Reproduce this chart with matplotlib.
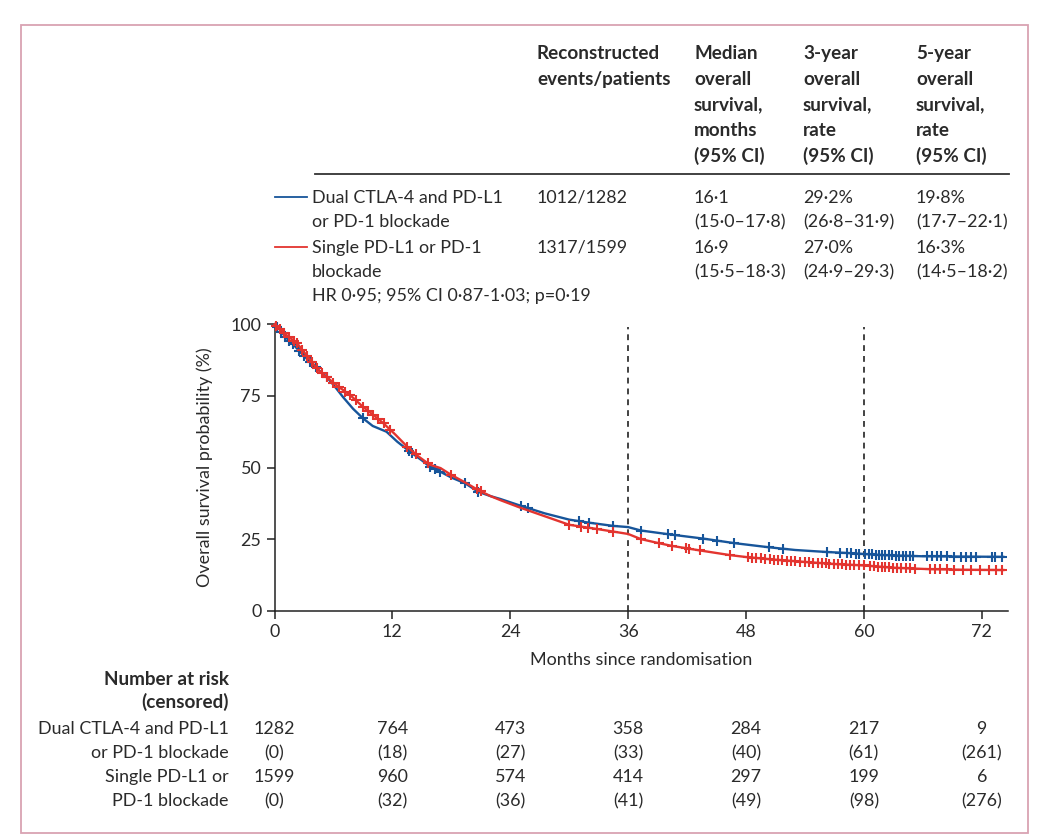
import numpy as np
import matplotlib
matplotlib.use("Agg")
import matplotlib.pyplot as plt
from matplotlib.lines import Line2D
from matplotlib.patches import Rectangle
import matplotlib.transforms as mtransforms

plt.rcParams['font.family'] = ['Lato', 'DejaVu Sans']

# ---------------- data ----------------
dual_t = [0, 0.5, 1.1, 1.9, 2.7, 3.6, 4.5, 5.3, 6.2, 7.0, 8.0, 9.0, 10.0, 11.4, 12.5,
          13.8, 15.0, 15.8, 16.9, 18.0, 19.4, 20.75, 22.0, 23.0, 25.1, 27.5, 30.0, 32.1,
          34.5, 36.0, 37.3, 40.1, 43.6, 46.8, 50.2, 53.0, 56.2, 58.0, 60.0, 62.0, 66.0,
          70.0, 74.2]
dual_s = [100, 98.3, 95.6, 93.0, 90.0, 86.9, 84.0, 81.7, 78.0, 74.5, 70.5, 67.2, 64.5,
          62.5, 59.0, 55.5, 52.5, 50.3, 48.5, 46.5, 44.5, 41.5, 40.0, 39.0, 36.6, 34.0,
          31.8, 30.7, 29.6, 29.2, 28.0, 26.7, 25.2, 23.6, 22.2, 21.2, 20.5, 20.2, 19.8,
          19.4, 19.0, 18.9, 18.8]

single_t = [0, 0.5, 1.3, 2.3, 3.3, 4.3, 5.0, 5.65, 6.6, 7.7, 9.0, 10.0, 11.1, 12.3, 13.5,
            14.6, 15.8, 16.9, 18.0, 19.4, 20.75, 22.0, 23.0, 25.0, 27.5, 30.0, 32.7, 36.0,
            37.3, 39.1, 40.5, 43.2, 46.4, 48.1, 51.0, 54.5, 57.0, 60.0, 63.0, 66.7, 70.0,
            74.2]
single_s = [100, 98.5, 96.0, 93.4, 89.0, 84.6, 82.3, 80.6, 78.0, 75.3, 71.2, 68.5, 65.4,
            61.5, 57.3, 54.0, 51.0, 49.8, 47.4, 44.8, 42.1, 40.0, 38.6, 36.0, 33.0, 30.0,
            28.6, 26.8, 25.0, 23.6, 22.6, 21.1, 19.4, 18.7, 17.8, 16.9, 16.3, 15.8, 15.0,
            14.5, 14.3, 14.2]

dual_censor = [0.3, 0.7, 1.1, 1.5, 1.9, 2.5, 3.0, 3.6, 4.2, 5.3, 9.0, 13.7, 14.0, 15.8,
               16.3, 16.9, 19.4, 20.75, 25.06, 25.76, 31.0, 32.06, 34.5, 37.3, 40.1, 40.8,
               43.6, 45.0, 46.8, 50.3, 51.8, 56.2, 57.6, 58.3, 58.7, 59.2, 59.5, 60.1, 60.5,
               60.8, 61.2, 61.5, 61.9, 62.2, 62.6, 62.9, 63.3, 63.6, 64.0, 64.3, 64.7, 65.0,
               66.4, 66.9, 67.4, 67.9, 68.5, 69.2, 69.9, 70.4, 70.9, 71.4, 73.0, 73.4, 74.1]
single_censor = [0.2, 0.6, 1.0, 1.5, 2.0, 2.3, 2.8, 3.3, 3.8, 4.3, 4.8, 5.3, 6.0, 6.6, 7.2,
                 7.7, 8.3, 9.0, 9.5, 10.0, 10.5, 11.1, 11.8, 13.5, 14.4, 15.6, 18.0, 20.6,
                 21.0, 30.0, 31.2, 31.9, 32.8, 34.5, 37.3, 39.1, 40.5, 41.9, 42.2, 43.3, 46.4,
                 48.2, 48.6, 49.0, 49.5, 49.9, 50.4, 50.9, 51.3, 51.7, 52.2, 52.6, 53.0, 53.5,
                 54.0, 54.4, 54.8, 55.3, 55.7, 56.1, 56.5, 57.0, 57.4, 57.8, 58.2, 58.6, 59.0,
                 59.5, 60.0, 60.6, 61.0, 61.4, 61.8, 62.2, 62.6, 63.0, 63.4, 63.8, 64.3, 64.7,
                 65.2, 66.7, 67.2, 67.8, 68.5, 69.2, 70.1, 70.9, 71.8, 72.7, 73.5, 74.1]

risk_times = [0, 12, 24, 36, 48, 60, 72]
dual_risk = [1282, 764, 473, 358, 284, 217, 9]
dual_cens = [0, 18, 27, 33, 40, 61, 261]
single_risk = [1599, 960, 574, 414, 297, 199, 6]
single_cens = [0, 32, 36, 41, 49, 98, 276]

x_ticks = [0, 12, 24, 36, 48, 60, 72]
y_ticks = [0, 25, 50, 75, 100]
landmarks = [36, 60]

header_cols = [
    ["Reconstructed", "events/patients"],
    ["Median", "overall", "survival,", "months", "(95% CI)"],
    ["3-year", "overall", "survival,", "rate", "(95% CI)"],
    ["5-year", "overall", "survival,", "rate", "(95% CI)"],
]
dual_label = ["Dual CTLA-4 and PD-L1", "or PD-1 blockade"]
single_label = ["Single PD-L1 or PD-1", "blockade"]
dual_stats = [["1012/1282"], ["16·1", "(15·0–17·8)"], ["29·2%", "(26·8–31·9)"], ["19·8%", "(17·7–22·1)"]]
single_stats = [["1317/1599"], ["16·9", "(15·5–18·3)"], ["27·0%", "(24·9–29·3)"], ["16·3%", "(14·5–18·2)"]]
hr_text = "HR 0·95; 95% CI 0·87-1·03; p=0·19"
risk_dual_label = ["Dual CTLA-4 and PD-L1", "or PD-1 blockade"]
risk_single_label = ["Single PD-L1 or", "PD-1 blockade"]

# ---------------- style ----------------
W, H = 1059, 840
BLUE = '#17559a'
RED = '#e3342f'
TXT = '#2a2a2a'
FS = 12.9
FSB = 13.6

fig = plt.figure(figsize=(W / 100, H / 100), dpi=100)
fig.patch.set_facecolor('white')

def fx(x):
    return x / W

def fy(y):
    return 1 - y / H

def T(x, y, s, bold=False, ha='left', **kw):
    # y is visual centre (px from top); place baseline below it
    fig.text(fx(x), fy(y + 6.2), s, ha=ha, va='baseline', fontsize=FSB if bold else FS,
             fontweight='bold' if bold else 'normal', color=TXT, **kw)

# border
fig.add_artist(Rectangle((fx(21), fy(833)), fx(1027.7) - fx(21), fy(24.7) - fy(833),
                         transform=fig.transFigure, fill=False, edgecolor='#d9a2b2', lw=1.3))

# axes
x0p, x1p, y0p, y1p = 274.5, 1008.0, 610.7, 324.3
px_per_month = (981.7 - 274.5) / 72
ax = fig.add_axes([fx(x0p), fy(y0p), fx(x1p) - fx(x0p), fy(y1p) - fy(y0p)])
ax.set_xlim(0, (x1p - x0p) / px_per_month)
ax.set_ylim(0, 100)
for sp in ['top', 'right']:
    ax.spines[sp].set_visible(False)
for sp in ['left', 'bottom']:
    ax.spines[sp].set_color('#222222')
    ax.spines[sp].set_linewidth(1.1)
ax.set_xticks(x_ticks)
ax.set_yticks(y_ticks)
ax.tick_params(direction='out', length=5.5, width=1.1, colors='#222222',
               labelsize=FS, labelcolor=TXT, pad=4)
ax.set_facecolor('none')

ax.vlines(landmarks, 0, 99, colors='#222222', linestyles=(0, (3.5, 3)), lw=1.2)

ax.plot(dual_t, dual_s, color=BLUE, lw=1.7, clip_on=False, zorder=3)
ax.plot(single_t, single_s, color=RED, lw=1.7, clip_on=False, zorder=4)
ax.plot(dual_censor, np.interp(dual_censor, dual_t, dual_s), ls='none', marker='+',
        ms=7.5, mew=1.5, color=BLUE, clip_on=False, zorder=3)
ax.plot(single_censor, np.interp(single_censor, single_t, single_s), ls='none', marker='+',
        ms=7.5, mew=1.5, color=RED, clip_on=False, zorder=4)

# axis labels
fig.text(fx(641), fy(660), "Months since randomisation", ha='center', va='center',
         fontsize=FS, color=TXT)
fig.text(fx(205), fy(467), "Overall survival probability (%)", ha='center', va='center',
         rotation=90, fontsize=FS, color=TXT)

# header table
col_x = [537, 694, 803, 916]
head_y = [53, 78.7, 104.4, 130, 155.8]
for cx, lines in zip(col_x, header_cols):
    for ly, line in zip(head_y, lines):
        T(cx, ly, line, bold=True)
fig.add_artist(Line2D([fx(315), fx(1009)], [fy(174), fy(174)], color='#333333', lw=1.3))

row_y = [196.5, 221, 246.5, 271]
# legend lines
fig.add_artist(Line2D([fx(275), fx(307)], [fy(196.5), fy(196.5)], color=BLUE, lw=1.3))
fig.add_artist(Line2D([fx(275), fx(307)], [fy(247), fy(247)], color=RED, lw=1.3))
for i, line in enumerate(dual_label):
    T(312, row_y[i], line)
for i, line in enumerate(single_label):
    T(312, row_y[2 + i], line)
for cx, lines in zip(col_x, dual_stats):
    for i, line in enumerate(lines):
        T(cx, row_y[i], line)
for cx, lines in zip(col_x, single_stats):
    for i, line in enumerate(lines):
        T(cx, row_y[2 + i], line)
T(312, 295, hr_text)

# number at risk
T(229, 679, "Number at risk", bold=True, ha='right')
T(229, 702, "(censored)", bold=True, ha='right')
risk_y = [728, 752, 776, 800]
T(229, risk_y[0], risk_dual_label[0], ha='right')
T(229, risk_y[1], risk_dual_label[1], ha='right')
T(229, risk_y[2], risk_single_label[0], ha='right')
T(229, risk_y[3], risk_single_label[1], ha='right')
trans = mtransforms.blended_transform_factory(ax.transData, fig.transFigure)
for t, a, b, c, d in zip(risk_times, dual_risk, dual_cens, single_risk, single_cens):
    for yy, s in zip(risk_y, [str(a), f"({b})", str(c), f"({d})"]):
        ax.text(t, fy(yy + 6.2), s, transform=trans, ha='center', va='baseline',
                fontsize=FS, color=TXT, clip_on=False)

fig.savefig('out.png', dpi=100, facecolor='white')
